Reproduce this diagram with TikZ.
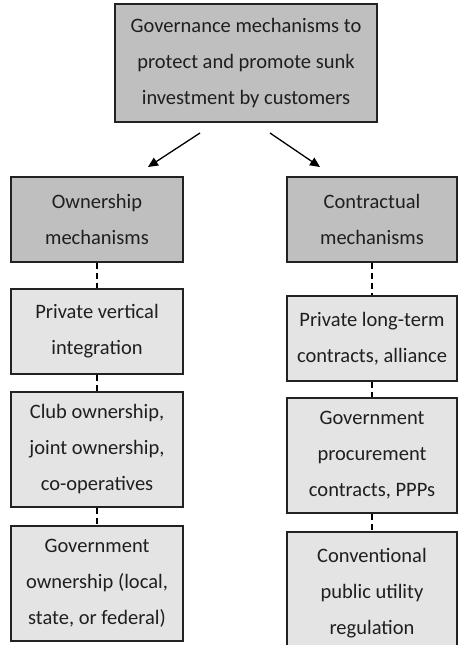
\documentclass[tikz,border=0pt]{standalone}
\usepackage{fontspec}
\setmainfont{Carlito}
\usetikzlibrary{arrows.meta}
\definecolor{headfill}{HTML}{BFBFBF}
\definecolor{itemfill}{HTML}{E4E4E4}
\definecolor{edge}{HTML}{222222}
\begin{document}
\begin{tikzpicture}[x=1pt,y=-1pt,
  box/.style={draw=edge,line width=1.5pt,inner sep=0pt,align=center,
    font=\fontsize{20.5}{36}\selectfont,text=black!88},
  headbox/.style={box,fill=headfill},
  itembox/.style={box,fill=itemfill},
  link/.style={draw=black,line width=1.3pt,dash pattern=on 6pt off 4pt},
  branch/.style={draw=black,line width=1.3pt,-{Triangle[length=10pt,width=9pt]}}]
\useasboundingbox (0,0) rectangle (458,645);
\clip (0,0) rectangle (458,645);
% root
\node[headbox,minimum width=262pt,minimum height=118pt] (root) at (246,63)
  {Governance mechanisms to\\protect and promote sunk\\investment by customers};
% two main branches
\node[headbox,minimum width=172pt,minimum height=85pt] (own) at (97,219.5)
  {Ownership\\mechanisms};
\node[headbox,minimum width=170pt,minimum height=85pt] (con) at (372,219.5)
  {Contractual\\mechanisms};
% ownership column
\node[itembox,minimum width=172pt,minimum height=85pt] (pvi) at (97,331.5)
  {Private vertical\\integration};
\node[itembox,minimum width=172pt,minimum height=115pt] (club) at (97,449.5)
  {Club ownership,\\joint ownership,\\co-operatives};
\node[itembox,minimum width=172pt,minimum height=115pt] (gown) at (97,583.5)
  {Government\\ownership (local,\\state, or federal)};
% contractual column
\node[itembox,minimum width=170pt,minimum height=85pt] (plt) at (372,338.5)
  {Private long-term\\contracts, alliance};
\node[itembox,minimum width=170pt,minimum height=115pt] (gpc) at (372,455.5)
  {Government\\procurement\\contracts, PPPs};
\node[itembox,minimum width=170pt,minimum height=122pt] (cpu) at (372,593)
  {Conventional\\public utility\\regulation};
% branch arrows
\coordinate (la) at (200,133);
\coordinate (lb) at (148,167);
\coordinate (ra) at (270,133);
\coordinate (rb) at (320,167);
\draw[branch] (la) -- (lb);
\draw[branch] (ra) -- (rb);
% dashed links
\draw[link] (own.south) -- (pvi.north);
\draw[link] (pvi.south) -- (club.north);
\draw[link] (club.south) -- (gown.north);
\draw[link] (con.south) -- (plt.north);
\draw[link] (plt.south) -- (gpc.north);
\draw[link] (gpc.south) -- (cpu.north);
\end{tikzpicture}
\end{document}
